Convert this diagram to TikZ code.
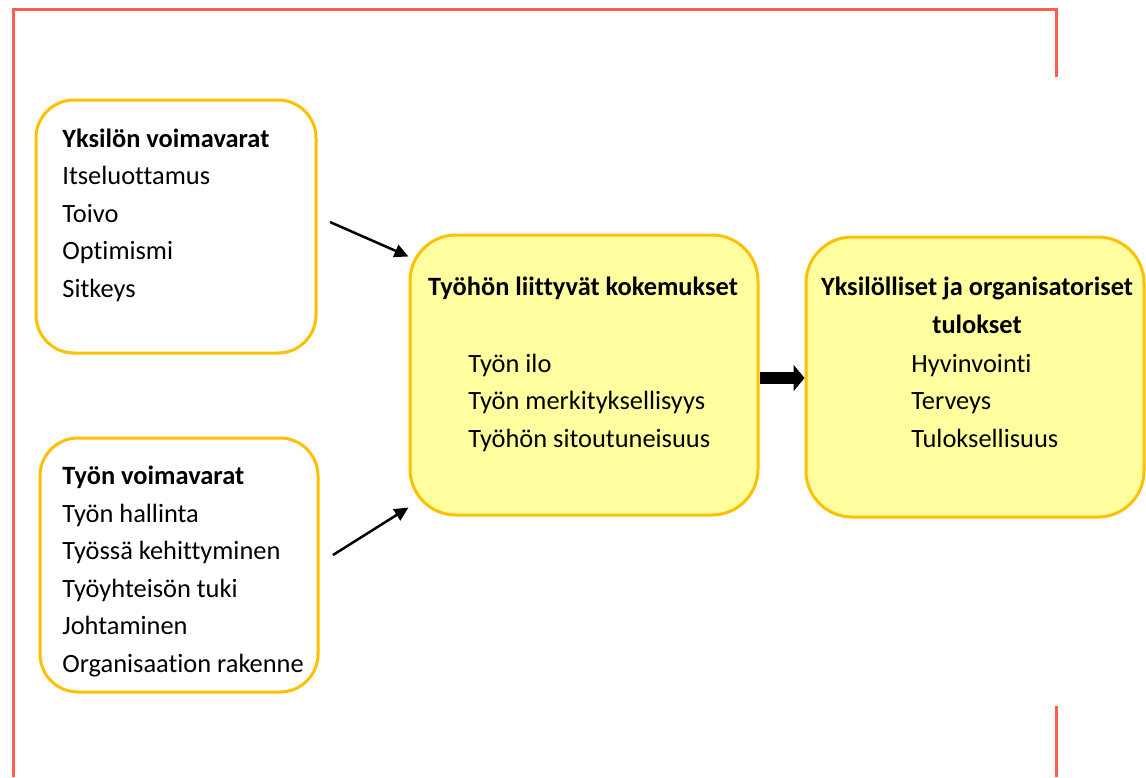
\documentclass[tikz,border=0pt]{standalone}
\usepackage{fontspec}
\setmainfont[Ligatures=NoCommon]{Carlito}
\usetikzlibrary{arrows.meta,positioning}
\definecolor{boxline}{HTML}{FFC000}
\definecolor{boxfill}{HTML}{FFFF9F}
\definecolor{frameline}{HTML}{FF5B4E}

\begin{document}
\begin{tikzpicture}[
    x=0.5pt, y=-0.5pt,
    every node/.style={font=\fontsize{13.2}{18.75}\selectfont},
    resource/.style={draw=boxline, line width=1.5pt, rounded corners=19pt, fill=white},
    outcome/.style={draw=boxline, line width=1.5pt, rounded corners=23pt, fill=boxfill},
    list/.style={align=left, inner sep=0pt, anchor=base west},
    head/.style={align=center, inner sep=0pt, anchor=base, font=\fontsize{13.2}{18.75}\selectfont\bfseries},
    link/.style={-{Triangle[length=7pt,width=6.5pt]}, line width=1.25pt},
    bigarrow/.style={-{Triangle[length=5.5pt,width=13pt]}, line width=6pt}
]
\useasboundingbox (0,0) rectangle (1146,777);

% frame
\draw[frameline, line width=1.5pt] (13,777) -- (13,9) -- (1056,9) -- (1056,77);
\draw[frameline, line width=1.5pt] (1056,706) -- (1056,777);

% boxes
\node[resource, minimum width=140pt, minimum height=126.5pt] (individual) at (176,226.5) {};
\node[resource, minimum width=139pt, minimum height=127pt] (work) at (179,565) {};
\node[outcome, minimum width=174pt, minimum height=140pt] (experience) at (584,375) {};
\node[outcome, minimum width=169pt, minimum height=140pt] (results) at (975,377) {};

% texts (anchored at the baseline of the last line)
\node[list] (individual_text) at (62,297) {\textbf{Yksilön voimavarat}\\Itseluottamus\\Toivo\\Optimismi\\Sitkeys};
\node[list] (work_text) at (62,672) {\textbf{Työn voimavarat}\\Työn hallinta\\Työssä kehittyminen\\Työyhteisön tuki\\Johtaminen\\Organisaation rakenne};
\node[head] (experience_title) at (583,295) {Työhön liittyvät kokemukset};
\node[list] (experience_text) at (468,447) {Työn ilo\\Työn merkityksellisyys\\Työhön sitoutuneisuus};
\node[head] (results_title) at (977,333) {Yksilölliset ja organisatoriset\\tulokset};
\node[list] (results_text) at (911,447) {Hyvinvointi\\Terveys\\Tuloksellisuus};

% arrows
\coordinate (from_individual) at (330,222);
\coordinate (from_work) at (333,555);
\draw[link] (from_individual) -- ([yshift=-11.5pt]experience.north west);
\draw[link] (from_work) -- ([yshift=4.5pt]experience.south west);
\draw[bigarrow] ([yshift=-1.5pt]experience.east) -- ([yshift=-1.5pt]experience.east -| results.west);

\end{tikzpicture}
\end{document}
